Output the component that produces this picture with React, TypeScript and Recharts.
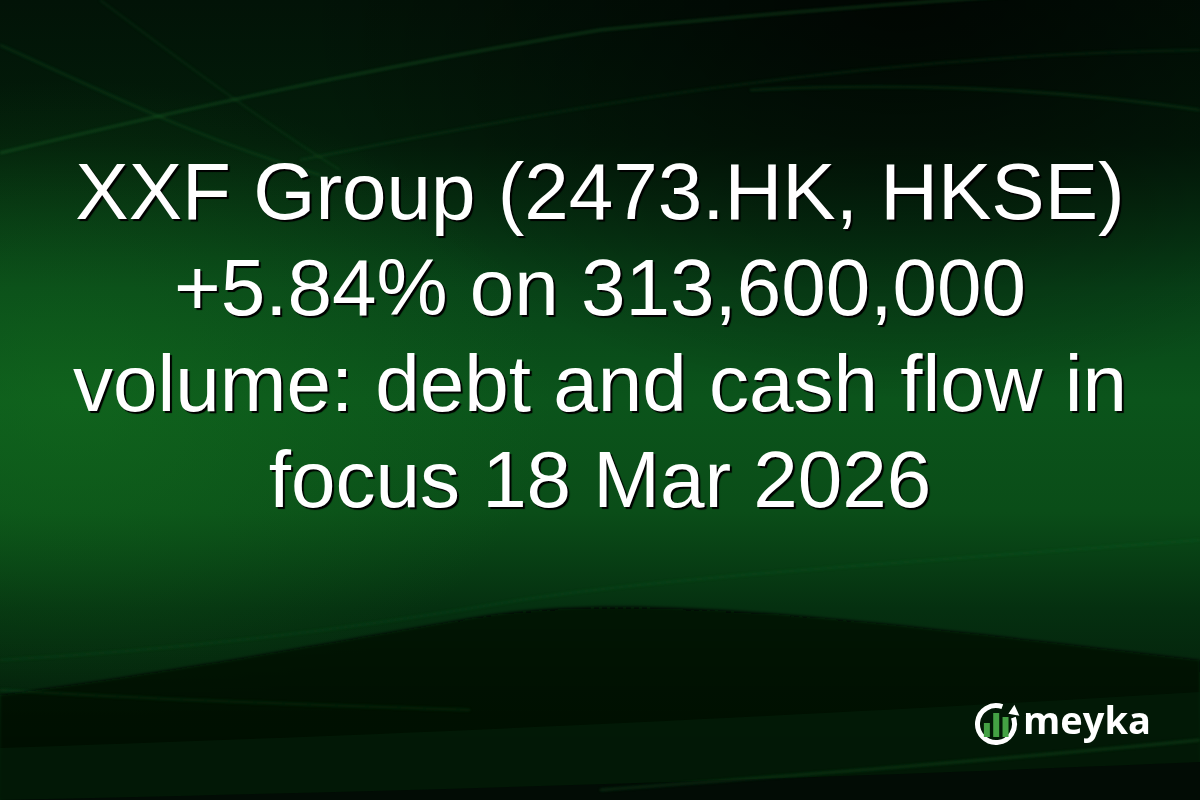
import React from 'react'
import { BarChart, Bar, XAxis, YAxis } from 'recharts'

// headline lines as laid out on the card
const titleLines = [
  'XXF Group (2473.HK, HKSE)',
  '+5.84% on 313,600,000',
  'volume: debt and cash flow in',
  'focus 18 Mar 2026',
]

// logo bars (relative heights)
const logoBars = ['a', 'b', 'c']
const logoValues = [14, 24, 20]
const logoData = logoBars.map((k, i) => ({ k, v: logoValues[i] }))

const W = 1200
const H = 800

function Background() {
  return (
    <svg width={W} height={H} style={{ position: 'absolute', left: 0, top: 0 }}>
      <defs>
        <linearGradient id="bg" x1="0" y1="0" x2="0" y2="1">
          <stop offset="0" stopColor="#021307" />
          <stop offset="0.18" stopColor="#031d0a" />
          <stop offset="0.36" stopColor="#084418" />
          <stop offset="0.5" stopColor="#0b541b" />
          <stop offset="0.64" stopColor="#0a4d18" />
          <stop offset="0.76" stopColor="#053010" />
          <stop offset="1" stopColor="#020e05" />
        </linearGradient>
        <radialGradient id="dark" cx="0.75" cy="0.0" r="0.5">
          <stop offset="0" stopColor="#000" stopOpacity="0.7" />
          <stop offset="1" stopColor="#000" stopOpacity="0" />
        </radialGradient>
        <radialGradient id="glow" cx="0.06" cy="0.5" r="0.4">
          <stop offset="0" stopColor="#16751f" stopOpacity="0.45" />
          <stop offset="1" stopColor="#16751f" stopOpacity="0" />
        </radialGradient>
        <linearGradient id="low" x1="0" y1="0" x2="0" y2="1">
          <stop offset="0" stopColor="#010803" stopOpacity="0.8" />
          <stop offset="1" stopColor="#010803" stopOpacity="0.92" />
        </linearGradient>
        <filter id="soft" x="-10%" y="-10%" width="120%" height="120%">
          <feGaussianBlur stdDeviation="1.5" />
        </filter>
      </defs>
      <rect width={W} height={H} fill="url(#bg)" />
      <rect width={W} height={H} fill="url(#glow)" />
      <rect width={W} height={H} fill="url(#dark)" />
      <path d="M0,695 C200,668 330,642 470,618 C620,592 800,612 1200,660 L1200,800 L0,800 Z" fill="url(#low)" filter="url(#soft)" />
      <path d="M0,748 C300,738 700,722 1200,692 L1200,800 L0,800 Z" fill="#04200b" opacity="0.55" />
      <path d="M0,800 C400,792 900,775 1200,762 L1200,800 Z" fill="#020c05" />
      <g fill="none" stroke="#2fae45" strokeWidth="2" filter="url(#soft)">
        <path d="M0,153 C180,110 360,70 600,30 C800,10 950,0 1100,-10" opacity="0.3" />
        <path d="M0,45 C100,90 200,140 320,175" opacity="0.18" />
        <path d="M100,0 C180,60 260,120 340,170" opacity="0.12" />
        <path d="M300,160 C550,110 850,55 1200,50" opacity="0.15" />
        <path d="M750,90 C950,80 1100,95 1200,110" opacity="0.2" />
        <path d="M0,690 C160,700 320,705 470,710" opacity="0.15" />
        <path d="M0,660 C180,650 350,630 520,600 C650,580 800,570 1200,540" opacity="0.1" />
        <path d="M600,790 C800,775 1000,760 1200,740" opacity="0.25" />
      </g>
    </svg>
  )
}

function Logo() {
  const cx = 996
  const cy = 724
  const r = 18.5
  const a0 = (-70 * Math.PI) / 180
  const a1 = (-20 * Math.PI) / 180
  const sx = cx + r * Math.cos(a0)
  const sy = cy + r * Math.sin(a0)
  const ex = cx + r * Math.cos(a1)
  const ey = cy + r * Math.sin(a1)
  return (
    <>
      <svg width={W} height={H} style={{ position: 'absolute', left: 0, top: 0 }}>
        <path
          d={`M${sx},${sy} A${r},${r} 0 1 0 ${ex},${ey}`}
          fill="none"
          stroke="#fff"
          strokeWidth={5}
        />
        <path d={`M${ex + 6},${ey - 2} L${ex - 5},${ey - 4} L${ex + 1},${ey - 13} Z`} fill="#fff" />
      </svg>
      <div style={{ position: 'absolute', left: 982, top: 712 }}>
        <BarChart width={28} height={25} data={logoData} margin={{ top: 0, right: 0, bottom: 0, left: 0 }} barCategoryGap="20%">
          <XAxis dataKey="k" hide />
          <YAxis hide domain={[0, 25]} />
          <Bar dataKey="v" fill="#44a244" isAnimationActive={false} />
        </BarChart>
      </div>
      <div
        style={{
          position: 'absolute',
          left: 1023,
          top: 694,
          fontFamily: '"Open Sans", sans-serif',
          fontWeight: 700,
          fontSize: 38,
          lineHeight: '50px',
          color: '#fff',
        }}
      >
        meyka
      </div>
    </>
  )
}

export default function App() {
  return (
    <div style={{ position: 'fixed', left: 0, top: 0, width: W, height: H, overflow: 'hidden', background: '#021207' }}>
      <Background />
      <div
        style={{
          position: 'absolute',
          left: 0,
          top: 144,
          width: W,
          textAlign: 'center',
          fontFamily: '"Liberation Sans", Arial, sans-serif',
          fontSize: 80,
          lineHeight: '96px',
          color: '#fff',
          textShadow: '2px 2px 1px #000',
          whiteSpace: 'nowrap',
        }}
      >
        {titleLines.map((t) => (
          <div key={t}>{t}</div>
        ))}
      </div>
      <Logo />
    </div>
  )
}
